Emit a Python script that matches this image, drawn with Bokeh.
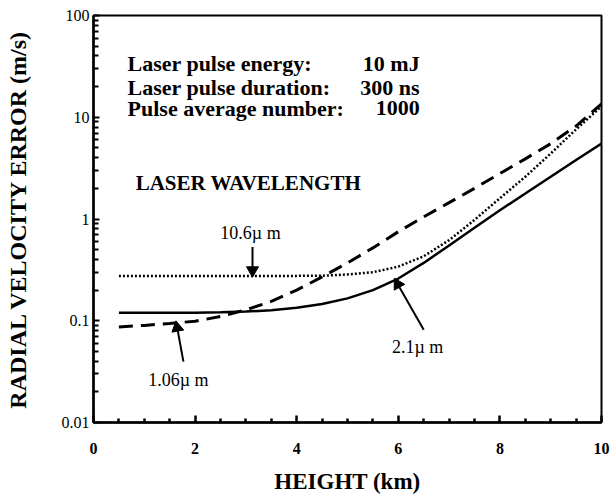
import math
from bokeh.plotting import figure
from bokeh.models import Range1d, FixedTicker, Label
from bokeh.embed import file_html
from bokeh.resources import INLINE

# ---- data ----
height_km = [0.5, 1.0, 1.5, 2.0, 2.5, 3.0, 3.5, 4.0, 4.5, 5.0,
             5.5, 6.0, 6.5, 7.0, 7.5, 8.0, 8.5, 9.0, 9.5, 10.0]
err_2_1um = [0.120, 0.120, 0.120, 0.120, 0.121, 0.123, 0.127, 0.134, 0.146, 0.166,
             0.200, 0.260, 0.370, 0.550, 0.820, 1.22, 1.78, 2.60, 3.80, 5.50]
err_10_6um = [0.276, 0.276, 0.276, 0.276, 0.276, 0.276, 0.276, 0.276, 0.277, 0.285,
              0.300, 0.340, 0.430, 0.620, 0.980, 1.60, 2.60, 4.40, 7.60, 12.8]
err_1_06um = [0.087, 0.090, 0.094, 0.099, 0.110, 0.128, 0.155, 0.200, 0.270, 0.370,
              0.520, 0.750, 1.05, 1.45, 2.00, 2.80, 3.90, 5.50, 8.20, 13.5]

x_ticks = [0, 2, 4, 6, 8, 10]
x_tick_labels = ["0", "2", "4", "6", "8", "10"]
x_minor = [v * 0.5 for v in range(1, 20) if v % 4 != 0]
y_ticks = [0.01, 0.1, 1, 10, 100]
y_tick_labels = ["0.01", "0.1", "1", "10", "100"]
y_minor = [m * d for d in [0.01, 0.1, 1, 10] for m in range(2, 10)]

info_keys = ["Laser pulse energy:", "Laser pulse duration:", "Pulse average number:"]
info_vals = ["10 mJ", "300 ns", "1000"]
info_y = [33.8, 19.7, 12.2]

wl_labels = ["10.6\u00b5 m", "2.1\u00b5 m", "1.06\u00b5 m"]
wl_label_x = [3.09, 6.38, 1.67]
wl_label_y = [0.73, 0.0556, 0.0264]
arrow_tail_x = [3.13, 6.50, 1.77]
arrow_tail_y = [0.53, 0.0817, 0.0396]
arrow_tip_x = [3.13, 5.94, 1.63]
arrow_tip_y = [0.28, 0.252, 0.0955]

FONT = "Liberation Serif"
X0, X1, Y0, Y1 = 0, 10, 0.01, 100
PX_PER_KM = 50.8
PX_PER_DEC = 102.0

p = figure(width=610, height=496, y_axis_type="log",
           x_range=Range1d(X0, X1), y_range=Range1d(Y0, Y1),
           output_backend="svg", toolbar_location=None,
           min_border_left=93, min_border_right=9,
           min_border_top=15, min_border_bottom=73)
p.grid.visible = False
p.outline_line_color = "black"
p.outline_line_width = 2

# axes with native inward ticks
p.xaxis.ticker = FixedTicker(ticks=x_ticks, minor_ticks=x_minor)
p.xaxis.major_label_overrides = dict(zip(x_ticks, x_tick_labels))
p.yaxis.ticker = FixedTicker(ticks=y_ticks, minor_ticks=y_minor)
p.yaxis.major_label_overrides = dict(zip(y_ticks, y_tick_labels))

for ax in (p.xaxis, p.yaxis):
    ax.axis_line_width = 2.5
    ax.axis_line_color = "black"
    ax.major_tick_out = 0
    ax.minor_tick_out = 0
    ax.major_tick_line_color = "black"
    ax.minor_tick_line_color = "black"
    ax.major_label_text_font = FONT
    ax.major_label_text_color = "black"
    ax.axis_label_text_font = FONT
    ax.axis_label_text_font_style = "bold"
    ax.axis_label_text_color = "black"

p.xaxis.major_tick_in = 7
p.xaxis.minor_tick_in = 4
p.xaxis.major_tick_line_width = 2.5
p.xaxis.minor_tick_line_width = 2.5
p.xaxis.axis_label_text_font_size = "23px"
p.xaxis.major_label_text_font_size = "16px"
p.xaxis.major_label_text_font_style = "bold"
p.xaxis.major_label_standoff = 20
p.xaxis.axis_label = "HEIGHT (km)"
p.xaxis.axis_label_standoff = 12

p.yaxis.major_tick_in = 6
p.yaxis.minor_tick_in = 5
p.yaxis.major_tick_line_width = 2
p.yaxis.minor_tick_line_width = 2
p.yaxis.axis_label_text_font_size = "24px"
p.yaxis.major_label_text_font_size = "16px"
p.yaxis.major_label_standoff = 4
p.yaxis.axis_label = "RADIAL VELOCITY ERROR (m/s)"
p.yaxis.axis_label_standoff = 28

# curves
p.line(height_km, err_2_1um, line_color="black", line_width=2.5)
p.line(height_km, err_10_6um, line_color="black", line_width=2.5, line_dash="2 2")
p.line(height_km, err_1_06um, line_color="black", line_width=3, line_dash="14 8")

# arrows drawn as glyphs (shaft segment + rotated triangle head)
head_x, head_y, head_ang, shaft_x1, shaft_y1 = [], [], [], [], []
for xs, ys, xe, ye in zip(arrow_tail_x, arrow_tail_y, arrow_tip_x, arrow_tip_y):
    sx, sy = xs * PX_PER_KM, math.log10(ys) * PX_PER_DEC
    ex, ey = xe * PX_PER_KM, math.log10(ye) * PX_PER_DEC
    d = math.hypot(ex - sx, ey - sy)
    ux, uy = (ex - sx) / d, (ey - sy) / d
    cx, cy = ex - ux * 5, ey - uy * 5
    head_x.append(cx / PX_PER_KM)
    head_y.append(10 ** (cy / PX_PER_DEC))
    head_ang.append(math.atan2(uy, ux) - math.pi / 2)
    shaft_x1.append(cx / PX_PER_KM)
    shaft_y1.append(10 ** (cy / PX_PER_DEC))

p.segment(x0=arrow_tail_x, y0=arrow_tail_y, x1=shaft_x1, y1=shaft_y1,
          line_color="black", line_width=2)
p.scatter(x=head_x, y=head_y, marker="triangle", size=12, angle=head_ang,
          fill_color="black", line_color="black", line_width=1)

# info text
for k, yv in zip(info_keys, info_y):
    p.add_layout(Label(x=0.67, y=yv, text=k, text_font=FONT, text_font_style="bold",
                       text_font_size="22px", text_baseline="middle", text_align="left",
                       text_color="black"))
for v, yv in zip(info_vals, info_y):
    p.add_layout(Label(x=6.42, y=yv, text=v, text_font=FONT, text_font_style="bold",
                       text_font_size="22px", text_baseline="middle", text_align="right",
                       text_color="black"))

p.add_layout(Label(x=0.83, y=2.25, text="LASER WAVELENGTH", text_font=FONT,
                   text_font_style="bold", text_font_size="21px",
                   text_baseline="middle", text_align="left", text_color="black"))

for t, lx, ly in zip(wl_labels, wl_label_x, wl_label_y):
    p.add_layout(Label(x=lx, y=ly, text=t, text_font=FONT, text_font_size="18px",
                       text_baseline="middle", text_align="center", text_color="black"))

open("out.html", "w").write(file_html(p, INLINE))
